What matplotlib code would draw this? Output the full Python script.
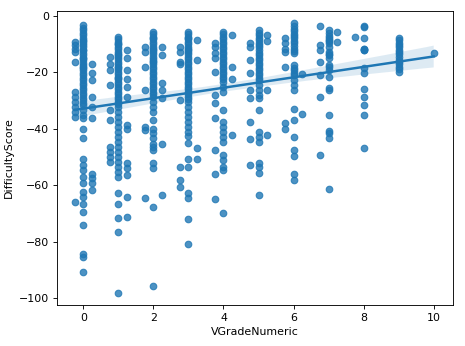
import numpy as np
import pandas as pd
import matplotlib
matplotlib.use("Agg")
import matplotlib.pyplot as plt
import seaborn as sns

# Scores read per VGradeNumeric column (dense stacks include overlapping points)
s_m025 = [-9.2, -10.4, -11.6, -12.7, -16.3, -26.9, -28.7, -30.4, -32.2, -34.0, -35.7, -65.8]
s_000 = [-3.3, -5.1, -6.8, -8.6, -10.4, -12.1, -13.9, -15.7, -17.5, -19.2, -21.0, -22.8,
         -24.5, -26.3, -28.1, -29.8, -31.6, -33.4, -35.1, -36.3, -39.9, -43.4, -50.5,
         -52.8, -54.6, -57.0, -59.3, -62.3, -64.0, -66.4, -69.3, -74.0, -84.1, -85.2, -90.6,
         -4.2, -6.0, -7.7, -9.5, -11.2, -13.0, -14.8, -16.6, -18.3, -20.1, -21.9, -23.6,
         -25.4, -27.2, -29.0, -30.7, -9.0, -12.0, -15.0, -18.0]
s_025 = [-16.9, -20.4, -22.8, -28.7, -32.2, -36.3, -55.8, -57.5, -59.3, -61.7]
s_075 = [-14.5, -16.9, -19.2, -24.5, -33.4, -36.9, -46.3, -48.1, -49.9, -51.6]
s_100 = [-7.4, -9.2, -11.0, -12.7, -14.5, -16.3, -18.0, -19.8, -21.6, -23.3, -25.1, -26.9,
         -28.7, -30.4, -32.2, -34.0, -35.7, -37.5, -39.3, -41.0, -42.8, -44.6, -46.3,
         -48.1, -49.9, -51.6, -53.4, -55.2, -57.0, -62.6, -66.6, -71.7, -76.4, -98.0,
         -8.3, -10.1, -11.8, -13.6, -15.4, -17.1, -18.9, -20.7, -22.4, -24.2, -26.0,
         -27.8, -29.6, -31.3, -10.0, -14.0, -18.0, -22.0]
s_125 = [-12.1, -15.1, -19.2, -22.2, -25.1, -28.7, -38.7, -39.9, -52.2, -54.0, -56.4, -64.0, -71.1]
s_175 = [-11.0, -12.7, -18.0, -26.3, -39.3, -40.4, -64.6]
s_200 = [-5.7, -7.4, -9.2, -11.0, -12.7, -14.5, -16.3, -18.0, -19.8, -21.6, -23.3, -25.1,
         -26.9, -28.7, -30.4, -32.2, -34.0, -36.9, -39.9, -41.6, -43.4, -45.2, -46.3,
         -47.5, -52.2, -54.0, -67.6, -95.6,
         -6.5, -8.3, -10.1, -11.8, -13.6, -15.4, -17.1, -18.9, -20.7, -22.4, -24.2,
         -26.0, -27.8, -8.0, -12.0, -16.0]
s_225 = [-11.0, -13.9, -23.9, -26.3, -29.2, -45.2, -63.4]
s_275 = [-11.2, -12.7, -16.3, -16.9, -29.8, -53.4, -58.1, -60.5]
s_300 = [-5.7, -7.4, -9.2, -11.0, -12.7, -14.5, -16.3, -18.0, -19.8, -21.6, -23.3, -25.1,
         -26.9, -28.7, -30.4, -32.2, -34.0, -35.7, -37.5, -39.3, -41.0, -42.6, -44.9,
         -50.5, -53.4, -62.8, -64.6, -72.0, -80.8,
         -6.5, -8.3, -10.1, -11.8, -13.6, -15.4, -17.1, -18.9, -20.7, -22.4, -24.2,
         -26.0, -27.8, -29.6, -8.0, -12.0]
s_325 = [-8.6, -15.7, -46.9, -50.5]
s_375 = [-9.8, -11.0, -13.3, -15.1, -19.8, -28.1, -31.0, -36.3, -47.5, -55.8, -64.8]
s_400 = [-5.7, -7.4, -9.2, -11.0, -12.7, -14.5, -16.3, -18.0, -19.8, -21.6, -23.3, -25.1,
         -26.9, -33.4, -37.5, -39.3, -41.0, -42.8, -44.6, -49.3, -51.1, -53.4, -54.6, -69.7,
         -6.5, -8.3, -10.1, -11.8, -13.6, -15.4, -17.1, -18.9, -20.7, -22.4]
s_425 = [-6.8, -18.0, -22.2, -42.2]
s_475 = [-9.8, -11.0, -15.7, -20.4, -26.3, -29.2, -37.5, -43.7, -52.8]
s_500 = [-5.1, -6.8, -8.6, -10.4, -12.1, -13.9, -15.7, -17.5, -19.2, -21.0, -22.8, -24.5,
         -26.3, -28.1, -29.2, -33.4, -41.0, -42.8, -44.6, -52.2, -53.4, -55.5, -63.4,
         -6.0, -7.7, -9.5, -11.2, -13.0, -14.8, -16.6, -18.3, -20.1, -21.9]
s_525 = [-6.8, -8.8, -26.1, -42.2]
s_575 = [-8.0, -9.8, -11.6, -12.7, -18.0, -38.1, -39.9]
s_600 = [-2.7, -4.5, -6.3, -8.0, -9.8, -11.6, -13.3, -17.5, -19.2, -21.0, -22.8, -24.5,
         -26.3, -32.8, -36.7, -42.8, -47.5, -49.5, -55.8, -58.1,
         -3.6, -5.4, -7.1, -8.9, -10.7, -12.4, -18.3, -20.1]
s_625 = [-20.6, -34.8]
s_675 = [-3.7, -10.4, -12.1, -16.3, -21.0, -28.9, -49.3]
s_700 = [-5.1, -8.0, -9.8, -12.7, -15.1, -17.5, -19.2, -21.6, -25.4, -26.3, -35.1,
         -40.7, -41.6, -43.4, -61.4, -9.0, -11.0, -14.0, -18.0,
         -6.0, -7.0, -8.5, -13.5]
s_725 = [-5.9, -9.4]
s_775 = [-7.4]
s_800 = [-3.5, -7.7, -11.6, -12.1, -18.6, -20.4, -25.9, -28.9, -31.6, -35.1, -46.9,
         -4.0, -11.8, -12.0]
s_900 = [-7.7, -9.8, -11.2, -12.7, -14.5, -16.3, -18.0, -19.8,
         -8.5, -10.5, -12.0, -13.5, -15.5, -17.0, -19.0]
s_1000 = [-13.1]

grades = [-0.25, 0, 0.25, 0.75, 1, 1.25, 1.75, 2, 2.25, 2.75, 3, 3.25, 3.75, 4, 4.25,
          4.75, 5, 5.25, 5.75, 6, 6.25, 6.75, 7, 7.25, 7.75, 8, 9, 10]
score_groups = [s_m025, s_000, s_025, s_075, s_100, s_125, s_175, s_200, s_225, s_275,
                s_300, s_325, s_375, s_400, s_425, s_475, s_500, s_525, s_575, s_600,
                s_625, s_675, s_700, s_725, s_775, s_800, s_900, s_1000]

xs, ys = [], []
for g, sc in zip(grades, score_groups):
    xs.extend([g] * len(sc))
    ys.extend(sc)
df = pd.DataFrame({"VGradeNumeric": xs, "DifficultyScore": ys})

dpi = 79.2
fig = plt.figure(figsize=(466 / dpi, 346 / dpi), dpi=dpi)
ax = fig.add_axes([0.1217, 0.1185, 0.8511, 0.8506])
sns.regplot(data=df, x="VGradeNumeric", y="DifficultyScore", ax=ax, seed=0)
ax.set_ylim(-102.3, 1.8)
ax.set_xlim(-0.76, 10.56)
fig.savefig("out.png", dpi=dpi)
